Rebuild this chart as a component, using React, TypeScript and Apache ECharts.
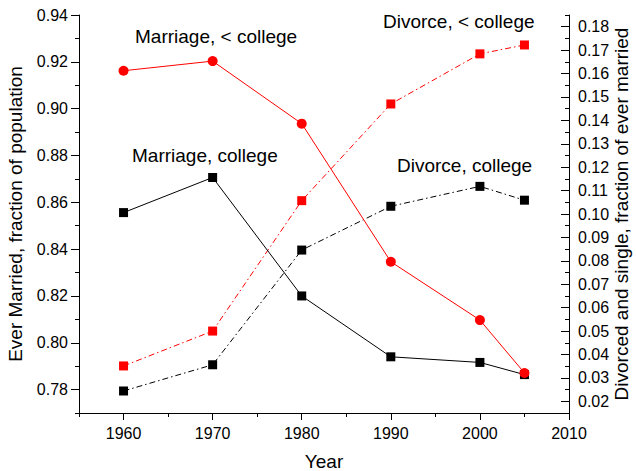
import React, { useEffect, useRef } from "react";
import * as echarts from "echarts";

const years = [1960, 1970, 1980, 1990, 2000, 2005];
const marriageLessCollege = [0.9162, 0.9203, 0.8936, 0.8346, 0.8097, 0.7871];
const marriageCollege = [0.8556, 0.8706, 0.82, 0.794, 0.7916, 0.7864];
const divorceLessCollege = [0.0351, 0.050, 0.1057, 0.147, 0.1684, 0.1722];
const divorceCollege = [0.0244, 0.0356, 0.0846, 0.1033, 0.1118, 0.1059];

const xMajorTicks = [1960, 1970, 1980, 1990, 2000, 2010];
const xMinorTicks = [1955, 1965, 1975, 1985, 1995, 2005];
const leftMajorTicks = [0.78, 0.8, 0.82, 0.84, 0.86, 0.88, 0.9, 0.92, 0.94];
const leftMinorTicks = [0.77, 0.79, 0.81, 0.83, 0.85, 0.87, 0.89, 0.91, 0.93];
const rightMajorTicks = [0.02, 0.03, 0.04, 0.05, 0.06, 0.07, 0.08, 0.09, 0.1, 0.11, 0.12, 0.13, 0.14, 0.15, 0.16, 0.17, 0.18];
const rightMinorTicks = [0.025, 0.035, 0.045, 0.055, 0.065, 0.075, 0.085, 0.095, 0.105, 0.115, 0.125, 0.135, 0.145, 0.155, 0.165, 0.175, 0.185];

const FONT = "'Liberation Sans', Arial, sans-serif";

export default function App() {
  const ref = useRef<HTMLDivElement>(null);
  useEffect(() => {
    if (!ref.current) return;
    const chart = echarts.init(ref.current, undefined, { renderer: "svg" });
    const pts = (vals: number[]) => years.map((y, i) => [y, vals[i]]);
    const axisLine = { show: true, lineStyle: { color: "#000", width: 1 } };
    const dashDot = [6, 3, 1.5, 3];
    chart.setOption({
      animation: false,
      backgroundColor: "#fff",
      textStyle: { fontFamily: FONT },
      grid: { left: 79, right: 67, top: 15, bottom: 58, containLabel: false, outerBoundsMode: "none" },
      xAxis: [
        {
          type: "value",
          min: 1955,
          max: 2010,
          position: "bottom",
          name: "Year",
          nameLocation: "middle",
          nameGap: 39,
          nameMoveOverlap: false,
          nameTextStyle: { fontSize: 19, color: "#000", fontFamily: FONT },
          axisLine,
          axisTick: { show: true, length: 7, customValues: xMajorTicks, lineStyle: { color: "#000" } },
          axisLabel: {
            show: true,
            customValues: xMajorTicks,
            fontSize: 16,
            color: "#000",
            margin: 12,
            fontFamily: FONT,
            formatter: (v: number) => String(v),
          },
          splitLine: { show: false },
        },
        {
          type: "value",
          min: 1955,
          max: 2010,
          position: "bottom",
          axisLine: { show: false },
          axisTick: { show: true, length: 4, customValues: xMinorTicks, lineStyle: { color: "#000" } },
          axisLabel: { show: false },
          splitLine: { show: false },
        },
      ],
      yAxis: [
        {
          type: "value",
          min: 0.77,
          max: 0.94,
          position: "left",
          name: "Ever Married, fraction of population",
          nameLocation: "middle",
          nameRotate: 90,
          nameGap: 54,
          nameMoveOverlap: false,
          nameTextStyle: { fontSize: 19, color: "#000", fontFamily: FONT },
          axisLine,
          axisTick: { show: true, length: 8, customValues: leftMajorTicks, lineStyle: { color: "#000" } },
          axisLabel: {
            show: true,
            customValues: leftMajorTicks,
            fontSize: 16,
            color: "#000",
            margin: 11,
            fontFamily: FONT,
            formatter: (v: number) => v.toFixed(2),
          },
          splitLine: { show: false },
        },
        {
          type: "value",
          min: 0.015,
          max: 0.185,
          position: "right",
          name: "Divorced and single, fraction of ever married",
          nameLocation: "middle",
          nameRotate: 90,
          nameGap: 43,
          nameMoveOverlap: false,
          nameTextStyle: { fontSize: 19, color: "#000", fontFamily: FONT },
          axisLine,
          axisTick: { show: true, inside: true, length: 8, customValues: rightMajorTicks, lineStyle: { color: "#000" } },
          axisLabel: {
            show: true,
            customValues: rightMajorTicks,
            fontSize: 16,
            color: "#000",
            margin: 9,
            fontFamily: FONT,
            formatter: (v: number) => v.toFixed(2),
          },
          splitLine: { show: false },
        },
        {
          type: "value",
          min: 0.77,
          max: 0.94,
          position: "left",
          axisLine: { show: false },
          axisTick: { show: true, length: 4, customValues: leftMinorTicks, lineStyle: { color: "#000" } },
          axisLabel: { show: false },
          splitLine: { show: false },
        },
        {
          type: "value",
          min: 0.015,
          max: 0.185,
          position: "right",
          axisLine: { show: false },
          axisTick: { show: true, inside: true, length: 4, customValues: rightMinorTicks, lineStyle: { color: "#000" } },
          axisLabel: { show: false },
          splitLine: { show: false },
        },
      ],
      series: [
        {
          name: "Divorce, college",
          type: "line",
          yAxisIndex: 1,
          data: pts(divorceCollege),
          symbol: "rect",
          symbolSize: 9,
          itemStyle: { color: "#000" },
          lineStyle: { color: "#000", width: 1, type: dashDot },
          z: 2,
        },
        {
          name: "Divorce, < college",
          type: "line",
          yAxisIndex: 1,
          data: pts(divorceLessCollege),
          symbol: "rect",
          symbolSize: 9,
          itemStyle: { color: "#ff0000" },
          lineStyle: { color: "#ff0000", width: 1, type: dashDot },
          z: 3,
        },
        {
          name: "Marriage, college",
          type: "line",
          yAxisIndex: 0,
          data: pts(marriageCollege),
          symbol: "rect",
          symbolSize: 9,
          itemStyle: { color: "#000" },
          lineStyle: { color: "#000", width: 1 },
          z: 4,
        },
        {
          name: "Marriage, < college",
          type: "line",
          yAxisIndex: 0,
          data: pts(marriageLessCollege),
          symbol: "circle",
          symbolSize: 10,
          itemStyle: { color: "#ff0000" },
          lineStyle: { color: "#ff0000", width: 1 },
          z: 5,
        },
      ],
      graphic: [
        { type: "text", left: 135, top: 27, style: { text: "Marriage, < college", fontSize: 19, fontFamily: FONT, fill: "#000" } },
        { type: "text", left: 132, top: 146, style: { text: "Marriage, college", fontSize: 19, fontFamily: FONT, fill: "#000" } },
        { type: "text", left: 383, top: 12, style: { text: "Divorce, < college", fontSize: 19, fontFamily: FONT, fill: "#000" } },
        { type: "text", left: 397, top: 156, style: { text: "Divorce, college", fontSize: 19, fontFamily: FONT, fill: "#000" } },
      ],
    });
    return () => chart.dispose();
  }, []);
  return <div ref={ref} style={{ position: "fixed", left: 0, top: 0, width: 636, height: 471 }} />;
}
